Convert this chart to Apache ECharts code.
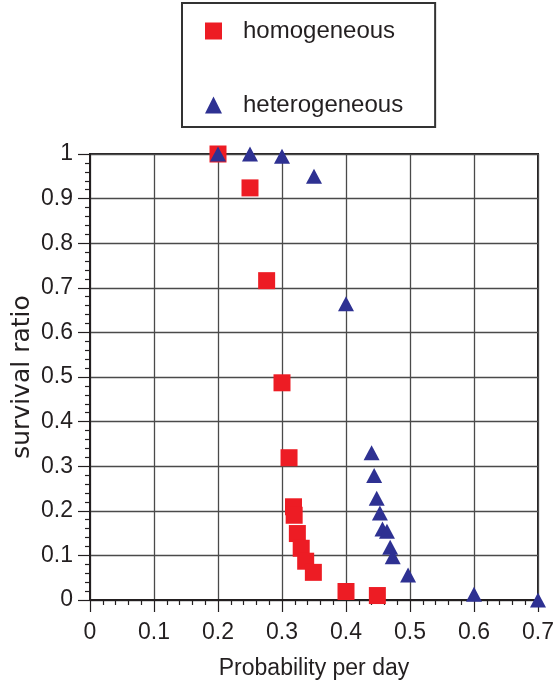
<!DOCTYPE html>
<html>
<head>
<meta charset="utf-8">
<script src="https://cdn.jsdelivr.net/npm/echarts@6/dist/echarts.min.js"></script>
<style>
html,body{margin:0;padding:0;background:#fff;}
#chart{width:554px;height:684px;}
</style>
</head>
<body>
<div id="chart"></div>
<script>
// Data
const homX = [0.2, 0.25, 0.276, 0.3, 0.311, 0.318, 0.319, 0.324, 0.330, 0.337, 0.349, 0.4, 0.449];
const homY = [1.0, 0.924, 0.716, 0.487, 0.319, 0.209, 0.19, 0.149, 0.116, 0.087, 0.062, 0.019, 0.01];
const hetX = [0.2, 0.25, 0.3, 0.35, 0.4, 0.44, 0.444, 0.448, 0.453, 0.457, 0.464, 0.469, 0.473, 0.497, 0.6, 0.7];
const hetY = [1.0, 1.0, 0.995, 0.95, 0.664, 0.33, 0.279, 0.228, 0.195, 0.159, 0.154, 0.118, 0.097, 0.056, 0.013, 0.0];
const seriesNames = ['homogeneous', 'heterogeneous'];
const xTitle = 'Probability per day';
const yTitle = 'survival ratio';

const FONT = '"Liberation Sans", Arial, sans-serif';
const TXT = '#231f20';

const homData = homX.map((x, i) => [x, homY[i]]);
const hetData = hetX.map((x, i) => [x, hetY[i]]);

const chart = echarts.init(document.getElementById('chart'), null, {renderer: 'canvas'});
chart.setOption({
  animation: false,
  backgroundColor: '#ffffff',
  textStyle: {fontFamily: FONT, color: TXT},
  grid: {
    left: 90, right: 16, top: 154, bottom: 84,
    containLabel: false, outerBoundsMode: 'none',
    show: true, borderColor: '#231f20', borderWidth: 2, backgroundColor: 'transparent'
  },
  legend: {
    orient: 'vertical',
    left: 182, top: 3,
    padding: [15, 32, 9, 23],
    itemGap: 48,
    itemWidth: 17, itemHeight: 17,
    borderColor: '#333333', borderWidth: 2,
    textStyle: {fontFamily: FONT, fontSize: 24, color: TXT, lineHeight: 26, padding: [0, 0, 0, 16]},
    data: [
      {name: seriesNames[0], icon: 'rect'},
      {name: seriesNames[1], icon: 'triangle'}
    ]
  },
  xAxis: {
    type: 'value', min: 0, max: 0.7, interval: 0.1,
    name: xTitle, nameLocation: 'middle', nameGap: 57, nameMoveOverlap: false,
    nameTextStyle: {fontFamily: FONT, fontSize: 23, color: TXT},
    axisLine: {show: true, onZero: false, lineStyle: {color: '#231f20', width: 2}},
    axisTick: {show: true, length: 12, lineStyle: {color: '#231f20', width: 1.2}},
    minorTick: {show: true, splitNumber: 5, length: 5, lineStyle: {color: '#231f20', width: 1.2}},
    axisLabel: {fontFamily: FONT, fontSize: 23, color: TXT, margin: 21},
    splitLine: {show: true, lineStyle: {color: '#4a4a4a', width: 1.3}}
  },
  yAxis: {
    type: 'value', min: 0, max: 1, interval: 0.1,
    name: yTitle, nameLocation: 'middle', nameGap: 55, nameMoveOverlap: false,
    nameTextStyle: {fontFamily: '"DejaVu Sans", sans-serif', fontSize: 25, color: TXT},
    axisLine: {show: true, onZero: false, lineStyle: {color: '#231f20', width: 2}},
    axisTick: {show: true, length: 12, lineStyle: {color: '#231f20', width: 1.2}},
    minorTick: {show: true, splitNumber: 5, length: 5, lineStyle: {color: '#231f20', width: 1.2}},
    axisLabel: {fontFamily: FONT, fontSize: 23, color: TXT, margin: 17},
    splitLine: {show: true, lineStyle: {color: '#4a4a4a', width: 1.3}}
  },
  series: [
    {
      name: seriesNames[0], type: 'scatter', data: homData,
      symbol: 'rect', symbolSize: 17, clip: false,
      itemStyle: {color: '#ed1c24', opacity: 1}
    },
    {
      name: seriesNames[1], type: 'scatter', data: hetData,
      symbol: 'triangle', symbolSize: [16, 15], clip: false,
      itemStyle: {color: '#2e3192', opacity: 1}
    }
  ]
});
</script>
</body>
</html>
